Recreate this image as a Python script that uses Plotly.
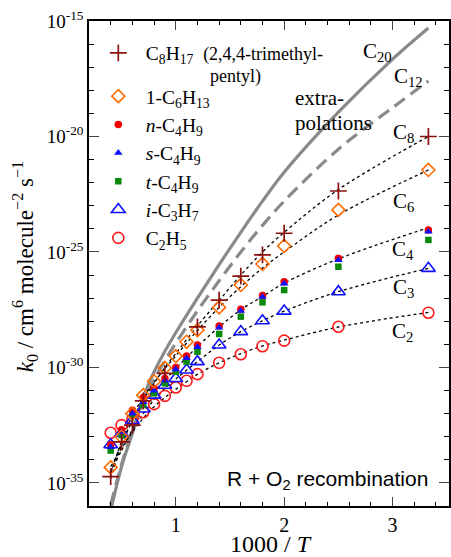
import numpy as np
import plotly.graph_objects as go

# ---------------- data (log10 of k0) ----------------
x_T = [0.4, 0.5, 0.6, 0.7, 0.8, 0.9, 1.0, 1.1, 1.2, 1.4, 1.6, 1.8, 2.0, 2.5, 3.33]

c2h5 = [-32.83, -32.50, -32.25, -31.94, -31.59, -31.23, -30.87, -30.58, -30.29, -29.80, -29.43, -29.08, -28.84, -28.24, -27.63]
i_c3h7 = [-33.35, -32.85, -32.30, -31.80, -31.20, -30.77, -30.48, -30.11, -29.75, -29.03, -28.45, -27.98, -27.56, -26.72, -25.71]
n_c4h9 = [-33.35, -32.70, -31.85, -31.30, -30.91, -30.48, -30.00, -29.51, -29.03, -28.21, -27.48, -26.89, -26.29, -25.27, -24.05]
s_c4h9 = [-33.45, -32.80, -32.00, -31.50, -31.00, -30.57, -30.08, -29.60, -29.12, -28.28, -27.55, -26.95, -26.37, -25.35, -24.12]
t_c4h9 = [-33.60, -32.93, -32.07, -31.63, -31.12, -30.69, -30.19, -29.75, -29.32, -28.55, -27.80, -27.18, -26.65, -25.64, -24.48]
c6h13 = [-34.33, -33.00, -32.00, -31.20, -30.60, -30.02, -29.51, -28.89, -28.38, -27.40, -26.43, -25.52, -24.74, -23.18, -21.45]

x_c8 = [0.4, 0.5, 0.6, 0.7, 0.9, 1.2, 1.4, 1.6, 1.8, 2.0, 2.5, 3.33]
c8h17 = [-34.73, -33.22, -32.50, -31.45, -30.26, -28.24, -27.09, -26.05, -25.13, -24.19, -22.36, -20.00]

# fitted (dotted) curves
x_fit = [0.4, 0.5, 0.6, 0.7, 0.8, 0.9, 1.0, 1.2, 1.4, 1.6, 1.8, 2.0, 2.5, 3.33]
fit_c2 = [-34.3, -33.5, -32.8, -32.2, -31.7, -31.3, -30.95, -30.3, -29.8, -29.4, -29.07, -28.82, -28.25, -27.62]
fit_c3 = [-34.5, -33.6, -32.7, -32.0, -31.4, -30.9, -30.5, -29.75, -29.03, -28.45, -27.98, -27.56, -26.72, -25.71]
fit_c4 = [-34.5, -33.3, -32.3, -31.6, -31.05, -30.55, -30.05, -29.1, -28.25, -27.5, -26.93, -26.35, -25.3, -23.95]
fit_c6 = [-34.6, -33.2, -32.1, -31.3, -30.65, -30.05, -29.5, -28.4, -27.4, -26.5, -25.7, -25.0, -23.4, -21.45]
fit_c8 = [-34.8, -33.4, -32.3, -31.4, -30.7, -30.0, -29.4, -28.2, -27.1, -26.0, -25.0, -24.15, -22.3, -20.0]

# extrapolations
x_ext = [0.4, 0.5, 0.6, 0.7, 0.8, 0.9, 1.0, 1.2, 1.4, 1.6, 1.8, 2.0, 2.5, 3.0, 3.33]
ext_c20 = [-36.2, -34.3, -32.85, -31.3, -30.2, -29.3, -28.5, -27.0, -25.55, -24.15, -22.8, -21.55, -18.95, -16.65, -15.3]
ext_c12 = [-35.95, -34.2, -32.75, -31.55, -30.55, -29.7, -28.95, -27.55, -26.25, -25.0, -23.85, -22.8, -20.55, -18.75, -17.6]

y_ticks = [-35, -30, -25, -20, -15]
y_ticktext = ["10<sup>-35</sup>", "10<sup>-30</sup>", "10<sup>-25</sup>", "10<sup>-20</sup>", "10<sup>-15</sup>"]
x_ticks = [1, 2, 3]

# ---------------- figure ----------------
def k(v):
    return 10 ** np.array(v, dtype=float)

SERIF = "'Liberation Serif', 'Times New Roman', serif"
SANS = "'Liberation Sans', Arial, sans-serif"

fig = go.Figure()

gray = "#8a8a8a"
fig.add_trace(go.Scatter(x=x_ext, y=k(ext_c20), mode="lines", line=dict(color=gray, width=3.2, shape="spline"),
                         showlegend=False, hoverinfo="skip"))
fig.add_trace(go.Scatter(x=x_ext, y=k(ext_c12), mode="lines", line=dict(color=gray, width=3.2, dash="13px,7px", shape="spline"),
                         showlegend=False, hoverinfo="skip"))
for f in [fit_c8, fit_c6, fit_c4, fit_c3, fit_c2]:
    fig.add_trace(go.Scatter(x=x_fit, y=k(f), mode="lines", line=dict(color="black", width=1.3, dash="dot", shape="spline"),
                             showlegend=False, hoverinfo="skip"))

def series(x, y, name, symbol, color, size, lw, rank, group):
    mk = dict(symbol=symbol, size=size, color=color, line=dict(color=color, width=lw))
    fig.add_trace(go.Scatter(x=x, y=k(y), mode="markers", name=name, marker=mk,
                             legendrank=rank, legendgroup=group))

series(x_T, c2h5, "C<sub>2</sub>H<sub>5</sub>", "circle-open", "#FF1A1A", 11, 1.6, 7, "b")
series(x_T, i_c3h7, "<i>i</i>-C<sub>3</sub>H<sub>7</sub>", "triangle-up-open", "#1010FF", 12, 1.6, 6, "b")
series(x_T, t_c4h9, "<i>t</i>-C<sub>4</sub>H<sub>9</sub>", "square", "#0A8A0A", 6.5, 0, 5, "b")
series(x_T, n_c4h9, "<i>n</i>-C<sub>4</sub>H<sub>9</sub>", "circle", "#F00000", 7.5, 0, 3, "b")
series(x_T, s_c4h9, "<i>s</i>-C<sub>4</sub>H<sub>9</sub>", "triangle-up", "#1010FF", 7.5, 0, 4, "b")
series(x_T, c6h13, "1-C<sub>6</sub>H<sub>13</sub>", "diamond-open", "#FF6A00", 10, 1.6, 2, "b")
series(x_c8, c8h17, "C<sub>8</sub>H<sub>17</sub>  <span style='font-size:18px'>(2,4,4-trimethyl-</span>",
       "cross-thin-open", "#8B1010", 12, 1.7, 1, "a")

# pixel -> paper helpers for text placement
L, R, T, B = 89, 451, 21.3, 505.8
def px(xp):
    return (xp - L) / (R - L)
def py(yp):
    return (B - yp) / (B - T)

ann = []
def txt(s, xp, yp, size=21, fam=SERIF, xa="center", ya="middle", angle=0):
    ann.append(dict(text=s, x=px(xp), y=py(yp), xref="paper", yref="paper", showarrow=False,
                    xanchor=xa, yanchor=ya, textangle=angle, font=dict(family=fam, size=size, color="black")))

txt("<span style='font-size:18px'>pentyl)</span>", 236, 77)
txt("C<sub>20</sub>", 379, 52)
txt("C<sub>12</sub>", 410, 77)
txt("extra-", 294, 98, xa="left")
txt("polations", 294, 123, xa="left")
txt("C<sub>8</sub>", 405, 133)
txt("C<sub>6</sub>", 405, 202)
txt("C<sub>4</sub>", 405, 250)
txt("C<sub>3</sub>", 405, 288)
txt("C<sub>2</sub>", 404, 332)
txt("R + O<sub>2</sub> recombination", 432, 480, size=21, fam=SANS, xa="right")
txt("<i>k</i><sub>0</sub> / cm<sup>6</sup> molecule<sup>\u22122</sup> s<sup>\u22121</sup>", 25, 267, size=23, angle=-90)
txt("1000 / <i>T</i>", 272, 544, size=24)

fig.update_layout(
    width=451, height=557,
    margin=dict(l=L, r=451 - R, t=T, b=557 - B),
    paper_bgcolor="white", plot_bgcolor="white",
    font=dict(family=SERIF, size=19, color="black"),
    annotations=ann,
    showlegend=True,
    legend=dict(x=0.005, y=0.974, xanchor="left", yanchor="top", bgcolor="rgba(0,0,0,0)",
                font=dict(family=SERIF, size=19.5), tracegroupgap=15, traceorder="grouped",
                itemwidth=45, valign="middle"),
)
fig.update_xaxes(range=[0.2, 3.52], tickvals=x_ticks, ticks="inside", ticklen=9, tickwidth=1.3,
                 showline=True, linecolor="black", linewidth=1.5, mirror="ticks",
                 showgrid=False, zeroline=False, tickfont=dict(family=SERIF, size=20),
                 minor=dict(tickvals=[round(0.2 * i, 1) for i in range(1, 18)], ticks="inside", ticklen=4.5,
                            tickwidth=1.3, tickcolor="black", showgrid=False))
fig.update_yaxes(type="log", range=[-36, -15], tickvals=[10.0 ** v for v in y_ticks], ticktext=y_ticktext,
                 ticks="inside", ticklen=10, tickwidth=1.3,
                 showline=True, linecolor="black", linewidth=1.5, mirror="ticks",
                 showgrid=False, zeroline=False, tickfont=dict(family=SERIF, size=19),
                 minor=dict(tickvals=[10.0 ** v for v in range(-36, -14)], ticks="inside", ticklen=5.5,
                            tickwidth=1.3, tickcolor="black", showgrid=False))

fig.write_html("out.html", config={"displayModeBar": False},
               post_script="document.body.style.margin='0px';document.body.style.padding='0px';")
